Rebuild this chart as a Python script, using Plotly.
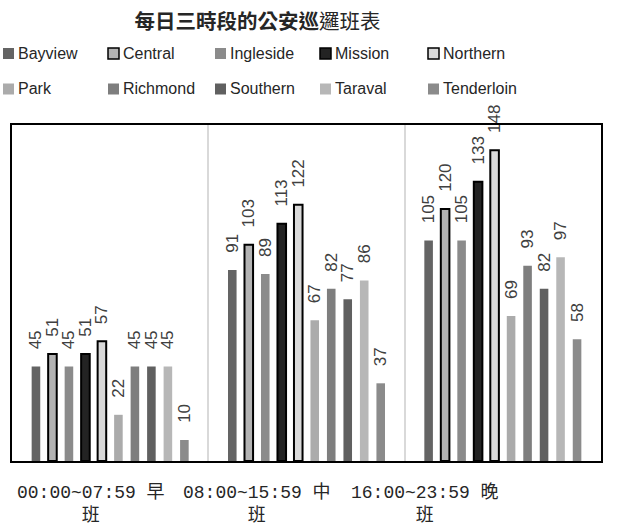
import plotly.graph_objects as go

# Shift categories (x axis) and their wrapped labels
shifts = ["00:00~07:59 早班", "08:00~15:59 中班", "16:00~23:59 晚班"]
shift_labels = ["00:00~07:59 早<br>班", "08:00~15:59 中<br>班", "16:00~23:59 晚<br>班"]

# Patrol units per district for each shift
bayview = [45, 91, 105]
central = [51, 103, 120]
ingleside = [45, 89, 105]
mission = [51, 113, 133]
northern = [57, 122, 148]
park = [22, 67, 69]
richmond = [45, 82, 93]
southern = [45, 77, 82]
taraval = [45, 86, 97]
tenderloin = [10, 37, 58]

districts = ["Bayview", "Central", "Ingleside", "Mission", "Northern",
             "Park", "Richmond", "Southern", "Taraval", "Tenderloin"]
series = [bayview, central, ingleside, mission, northern,
          park, richmond, southern, taraval, tenderloin]
fills = ["#646464", "#b3b3b3", "#8b8b8b", "#232323", "#d9d9d9",
         "#ababab", "#7e7e7e", "#606060", "#b7b7b7", "#8b8b8b"]
outlined = {"Central", "Mission", "Northern"}

W, H = 619, 530
L, R, T, B = 12, 18, 125, 69
PW, PH = W - L - R, H - T - B


def px_x(px):
    return (px - L) / PW


def px_y(py):
    return (H - B - py) / PH


fig = go.Figure()
for name, vals, col in zip(districts, series, fills):
    lw = 2 if name in outlined else 0
    fig.add_trace(go.Bar(
        name=name, x=shifts, y=vals,
        marker=dict(color=col, line=dict(color="#000000", width=lw)),
        text=["\u00a0\u00a0\u00a0" + str(v) for v in vals],
        textposition="outside", textangle=-90, constraintext="none",
        textfont=dict(family="Liberation Sans", size=17, color="#404040"),
        cliponaxis=False, showlegend=False,
    ))

# Legend: two rows of five swatches with names
col_left = [3, 108, 215, 320, 428]
row_mid = [53.5, 89]
shapes, annotations = [], []
for i, (name, col) in enumerate(zip(districts, fills)):
    r, c = divmod(i, 5)
    x0, yc = col_left[c], row_mid[r]
    line = dict(color="#000000", width=1.5) if name in outlined else dict(width=0)
    shapes.append(dict(type="rect", xref="paper", yref="paper",
                       x0=px_x(x0), x1=px_x(x0 + 11),
                       y0=px_y(yc + 5.5), y1=px_y(yc - 5.5),
                       fillcolor=col, line=line, layer="above"))
    annotations.append(dict(text=name, xref="paper", yref="paper",
                            x=px_x(x0 + 13), y=px_y(yc), xanchor="left", yanchor="middle",
                            showarrow=False,
                            font=dict(family="Liberation Sans", size=16, color="#262626")))

# Category labels under the axis
label_centers = [90.5, 257, 424.5]
for lab, cx in zip(shift_labels, label_centers):
    annotations.append(dict(text=lab, xref="paper", yref="paper",
                            x=px_x(cx), y=px_y(504), xanchor="center", yanchor="middle",
                            align="center", showarrow=False,
                            font=dict(family="Liberation Mono, Noto Sans CJK TC", size=18,
                                      color="#262626")))

fig.update_layout(
    width=W, height=H,
    margin=dict(l=L, r=R, t=T, b=B),
    paper_bgcolor="#ffffff", plot_bgcolor="#ffffff",
    barmode="group", bargap=0.16, bargroupgap=0.48,
    title=dict(text="<b>每日三時段的公安巡</b>邏班表", xref="container", x=257.5 / W,
               xanchor="center", yref="container", y=1 - 22 / H, yanchor="middle",
               font=dict(family="Noto Sans CJK TC", size=20.5, color="#262626")),
    shapes=shapes, annotations=annotations,
    xaxis=dict(type="category", tickson="boundaries", ticks="", showticklabels=False,
               showgrid=True, gridcolor="#d9d9d9", gridwidth=1.5,
               showline=True, mirror=True, linecolor="#000000", linewidth=2),
    yaxis=dict(range=[0, 160], showticklabels=False, showgrid=False, zeroline=False,
               ticks="", showline=True, mirror=True, linecolor="#000000", linewidth=2),
)

fig.write_html("out.html")
